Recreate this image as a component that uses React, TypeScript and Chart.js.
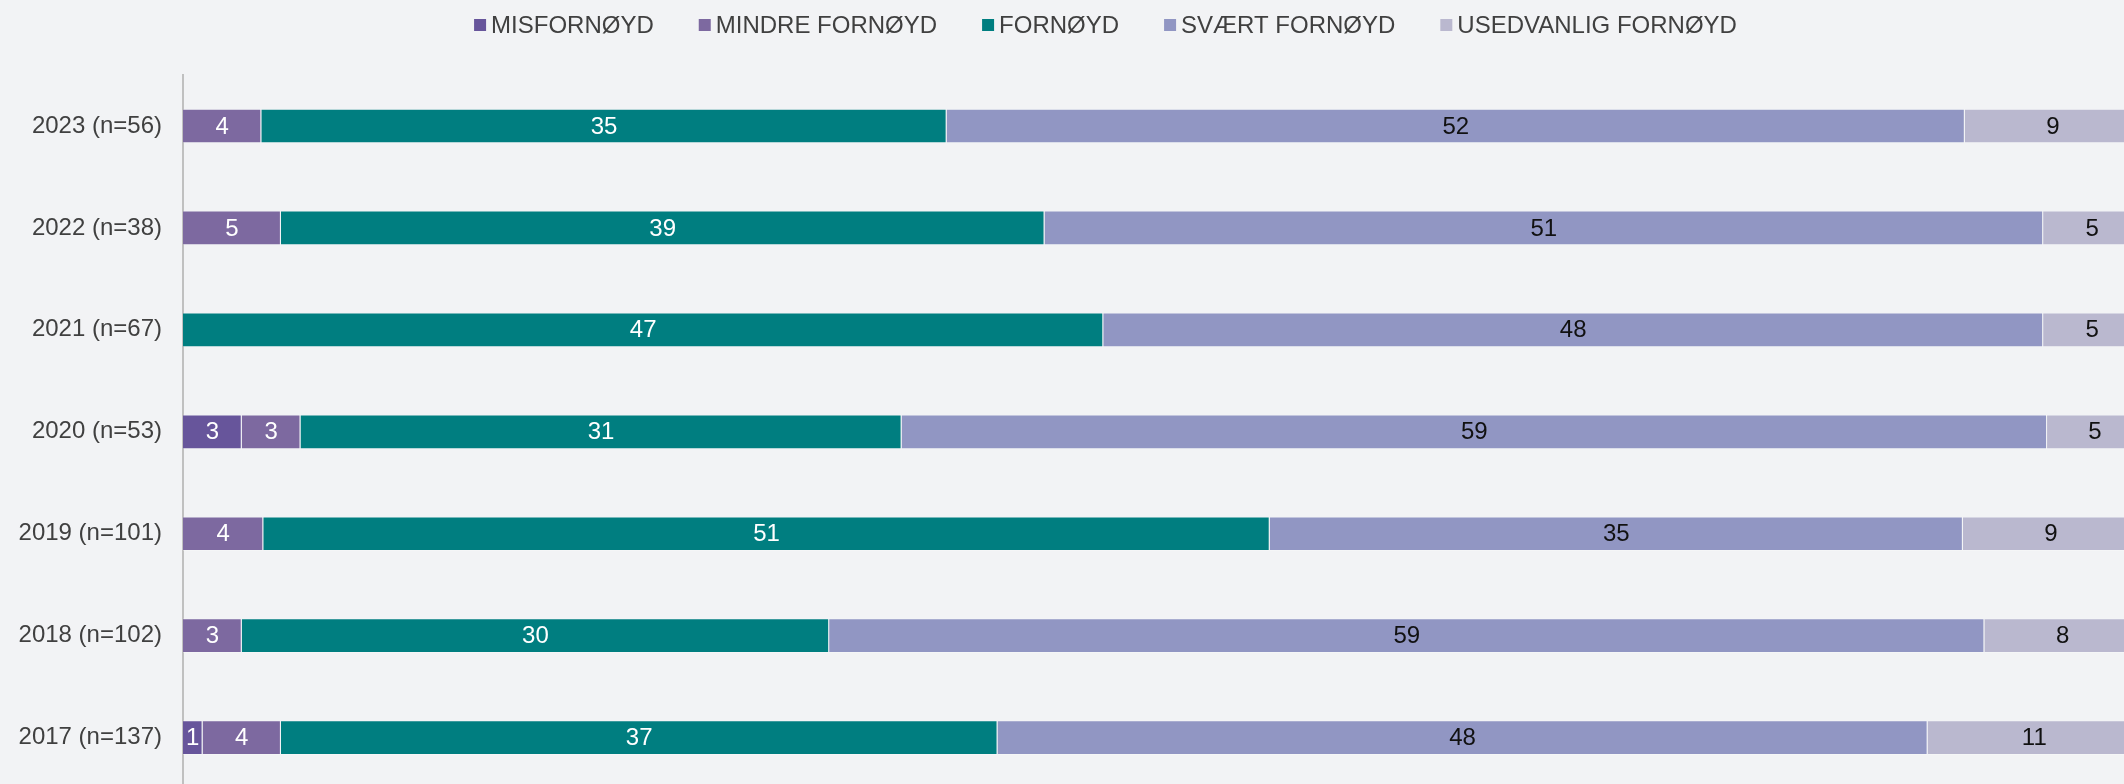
import React, { useEffect, useRef } from "react";
import { Chart, registerables } from "chart.js";

Chart.register(...registerables);

const categories = [
  "2023 (n=56)",
  "2022 (n=38)",
  "2021 (n=67)",
  "2020 (n=53)",
  "2019 (n=101)",
  "2018 (n=102)",
  "2017 (n=137)",
];
const seriesNames = ["MISFORNØYD", "MINDRE FORNØYD", "FORNØYD", "SVÆRT FORNØYD", "USEDVANLIG FORNØYD"];
// percentages; labels show them rounded
const misfornoyd = [null, null, null, 3.0, null, null, 1.0];
const mindreFornoyd = [4.0, 5.0, null, 3.0, 4.1, 3.0, 4.0];
const fornoyd = [35.0, 39.0, 47.0, 30.7, 51.4, 30.0, 36.6];
const svaertFornoyd = [52.0, 51.0, 48.0, 58.5, 35.4, 59.0, 47.5];
const usedvanligFornoyd = [9.0, 5.0, 5.0, 4.9, 9.0, 8.0, 10.9];

const seriesValues = [misfornoyd, mindreFornoyd, fornoyd, svaertFornoyd, usedvanligFornoyd];
const seriesColors = ["#67559B", "#7D69A0", "#007E80", "#9196C3", "#BAB8CF"];
const labelColors = ["#FFFFFF", "#FFFFFF", "#FFFFFF", "#111111", "#111111"];

const FONT = '"Liberation Sans", Arial, sans-serif';

const dataLabelPlugin = {
  id: "dataLabels",
  afterDatasetsDraw(chart: any) {
    const ctx = chart.ctx;
    ctx.save();
    ctx.font = `24px ${FONT}`;
    ctx.textAlign = "center";
    ctx.textBaseline = "middle";
    chart.data.datasets.forEach((ds: any, di: number) => {
      const meta = chart.getDatasetMeta(di);
      meta.data.forEach((el: any, i: number) => {
        const v = ds.data[i];
        if (v === null || v === undefined || v === 0) return;
        const cx = (el.x + el.base) / 2;
        ctx.fillStyle = labelColors[di];
        ctx.fillText(String(Math.round(v)), cx, el.y + 1);
      });
    });
    ctx.restore();
  },
};

const legendPlugin = {
  id: "customLegend",
  afterDraw(chart: any) {
    const ctx = chart.ctx;
    ctx.save();
    ctx.font = `24px ${FONT}`;
    const box = 12;
    const gapBoxText = 5;
    const gapItems = 45;
    const widths = seriesNames.map((n) => ctx.measureText(n).width);
    const total =
      widths.reduce((a, b) => a + b, 0) + seriesNames.length * (box + gapBoxText) + (seriesNames.length - 1) * gapItems;
    let x = 1105.5 - total / 2;
    const baseline = 33;
    seriesNames.forEach((n, i) => {
      ctx.fillStyle = seriesColors[i];
      ctx.fillRect(x, 19, box, box);
      x += box + gapBoxText;
      ctx.fillStyle = "#404040";
      ctx.textAlign = "left";
      ctx.textBaseline = "alphabetic";
      ctx.fillText(n, x, baseline);
      x += widths[i] + gapItems;
    });
    ctx.restore();
  },
};

export default function App() {
  const canvasRef = useRef<HTMLCanvasElement | null>(null);

  useEffect(() => {
    if (!canvasRef.current) return;
    const chart = new Chart(canvasRef.current, {
      type: "bar",
      data: {
        labels: categories,
        datasets: seriesNames.map((name, i) => ({
          label: name,
          data: seriesValues[i] as any,
          backgroundColor: seriesColors[i],
          borderColor: "rgba(255,255,255,0.25)",
          borderWidth: 1,
          barPercentage: 0.34,
          categoryPercentage: 1,
        })),
      },
      options: {
        indexAxis: "y",
        responsive: false,
        animation: false,
        layout: { padding: { top: 75, bottom: 2, left: 0, right: 0 } },
        plugins: {
          legend: { display: false },
          tooltip: { enabled: false },
        },
        scales: {
          x: {
            stacked: true,
            display: false,
            min: 0,
            max: 99.13,
          },
          y: {
            stacked: true,
            grid: { display: false, drawTicks: false },
            border: { display: true, color: "#C0C0C0", width: 2 },
            ticks: {
              color: "#404040",
              font: { family: FONT, size: 24 },
              padding: 21,
            },
            afterFit: (scale: any) => {
              scale.width = 183;
            },
          },
        },
      },
      plugins: [dataLabelPlugin, legendPlugin],
    });
    return () => chart.destroy();
  }, []);

  return (
    <div
      style={{
        position: "fixed",
        left: 0,
        top: 0,
        width: 2124,
        height: 784,
        overflow: "hidden",
        background: "#F2F3F5",
      }}
    >
      <canvas ref={canvasRef} width={2124} height={824} style={{ display: "block" }} />
    </div>
  );
}
